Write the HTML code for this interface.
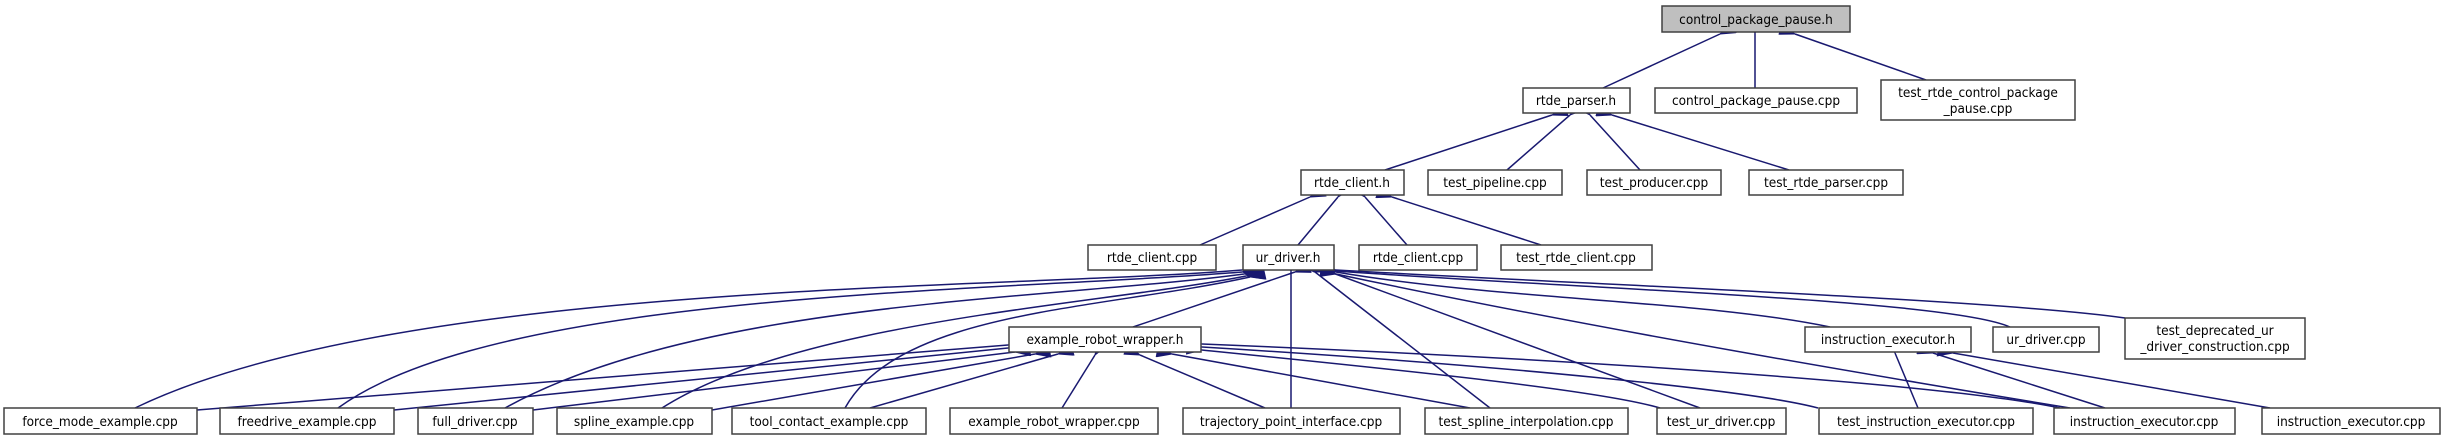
<!DOCTYPE html>
<html><head><meta charset="utf-8"><style>
html,body{margin:0;padding:0;background:#fff;}
svg{display:block;}
text{font-family:"DejaVu Sans Condensed","DejaVu Sans","Liberation Sans",sans-serif;font-size:13.5px;fill:#000;text-anchor:middle;}
rect{fill:#fff;stroke:#404040;stroke-width:1.5;}
path{fill:none;stroke:#191970;stroke-width:1.5;}
</style></head><body>
<svg width="2445" height="440" viewBox="0 0 2445 440" xmlns="http://www.w3.org/2000/svg">
<defs>
<marker id="a" markerUnits="userSpaceOnUse" markerWidth="16" markerHeight="12" refX="0" refY="6" orient="auto-start-reverse">
<path d="M0,6 L15,0.5 L15,11.5 Z" style="fill:#191970;stroke:#191970;stroke-width:1"/>
</marker>
</defs>
<g marker-start="url(#a)">
<!-- control_package_pause.h -->
<path d="M1720,34 L1603,88"/>
<path d="M1755,34 L1755,88"/>
<path d="M1795,34 L1926,80"/>
<!-- rtde_parser.h -->
<path d="M1552,115 L1385,170"/>
<path d="M1570,115 L1507,170"/>
<path d="M1590,115 L1640,170"/>
<path d="M1612,115 L1789,170"/>
<!-- rtde_client.h -->
<path d="M1310,197 L1200,245"/>
<path d="M1338,197 L1298,245"/>
<path d="M1365,197 L1407,245"/>
<path d="M1392,197 L1541,245"/>
<!-- ur_driver.h -->
<path d="M1242,270 C1000,290 400,280 135,408"/>
<path d="M1242,272 C1000,292 500,290 338,408"/>
<path d="M1244,274 C1050,300 700,300 505,408"/>
<path d="M1246,276 C1100,305 800,320 662,408"/>
<path d="M1250,277 C1100,310 900,310 845,408"/>
<path d="M1295,272 L1133,327"/>
<path d="M1291,272 L1291,408"/>
<path d="M1315,272 L1490,408"/>
<path d="M1330,272 L1700,408"/>
<path d="M1336,274 C1600,330 1900,380 2070,408"/>
<path d="M1336,272 C1500,300 1700,300 1830,327"/>
<path d="M1336,271 C1600,290 1950,300 2010,327"/>
<path d="M1336,270 C1600,285 2000,300 2125,318"/>
<!-- example_robot_wrapper.h -->
<path d="M1008,345 L197,410"/>
<path d="M1008,348 L394,410"/>
<path d="M1015,352 L533,410"/>
<path d="M1035,354 L712,410"/>
<path d="M1058,354 L870,408"/>
<path d="M1095,355 L1062,408"/>
<path d="M1140,355 L1265,408"/>
<path d="M1172,354 L1470,408"/>
<path d="M1202,350 C1400,370 1600,390 1660,408"/>
<path d="M1202,347 C1500,365 1750,390 1818,408"/>
<path d="M1202,344 C1600,360 1950,385 2060,408"/>
<!-- instruction_executor.h -->
<path d="M1895,353 L1918,408"/>
<path d="M1933,353 L2105,408"/>
<path d="M1953,353 L2270,408"/>
</g>
<!-- nodes -->
<rect x="1662" y="6" width="188" height="26" style="fill:#bfbfbf"/><text x="1756" y="24">control_package_pause.h</text>
<rect x="1523" y="88" width="107" height="25"/><text x="1576" y="105">rtde_parser.h</text>
<rect x="1655" y="88" width="202" height="25"/><text x="1756" y="105">control_package_pause.cpp</text>
<rect x="1881" y="80" width="194" height="40"/><text x="1978" y="97">test_rtde_control_package</text><text x="1978" y="113">_pause.cpp</text>
<rect x="1301" y="170" width="103" height="25"/><text x="1352" y="187">rtde_client.h</text>
<rect x="1428" y="170" width="134" height="25"/><text x="1495" y="187">test_pipeline.cpp</text>
<rect x="1587" y="170" width="134" height="25"/><text x="1654" y="187">test_producer.cpp</text>
<rect x="1749" y="170" width="154" height="25"/><text x="1826" y="187">test_rtde_parser.cpp</text>
<rect x="1088" y="245" width="128" height="25"/><text x="1152" y="262">rtde_client.cpp</text>
<rect x="1243" y="245" width="91" height="25"/><text x="1288" y="262">ur_driver.h</text>
<rect x="1359" y="245" width="118" height="25"/><text x="1418" y="262">rtde_client.cpp</text>
<rect x="1501" y="245" width="151" height="25"/><text x="1576" y="262">test_rtde_client.cpp</text>
<rect x="1009" y="327" width="192" height="25"/><text x="1105" y="344">example_robot_wrapper.h</text>
<rect x="1805" y="327" width="166" height="25"/><text x="1888" y="344">instruction_executor.h</text>
<rect x="1993" y="327" width="106" height="25"/><text x="2046" y="344">ur_driver.cpp</text>
<rect x="2125" y="318" width="180" height="41"/><text x="2215" y="335">test_deprecated_ur</text><text x="2215" y="351">_driver_construction.cpp</text>
<rect x="4" y="408" width="193" height="26"/><text x="100" y="426">force_mode_example.cpp</text>
<rect x="220" y="408" width="174" height="26"/><text x="307" y="426">freedrive_example.cpp</text>
<rect x="418" y="408" width="115" height="26"/><text x="475" y="426">full_driver.cpp</text>
<rect x="557" y="408" width="155" height="26"/><text x="634" y="426">spline_example.cpp</text>
<rect x="732" y="408" width="194" height="26"/><text x="829" y="426">tool_contact_example.cpp</text>
<rect x="950" y="408" width="208" height="26"/><text x="1054" y="426">example_robot_wrapper.cpp</text>
<rect x="1183" y="408" width="217" height="26"/><text x="1291" y="426">trajectory_point_interface.cpp</text>
<rect x="1425" y="408" width="203" height="26"/><text x="1526" y="426">test_spline_interpolation.cpp</text>
<rect x="1657" y="408" width="129" height="26"/><text x="1721" y="426">test_ur_driver.cpp</text>
<rect x="1819" y="408" width="214" height="26"/><text x="1926" y="426">test_instruction_executor.cpp</text>
<rect x="2054" y="408" width="181" height="26"/><text x="2144" y="426">instruction_executor.cpp</text>
<rect x="2262" y="408" width="178" height="26"/><text x="2351" y="426">instruction_executor.cpp</text>
</svg>
</body></html>
